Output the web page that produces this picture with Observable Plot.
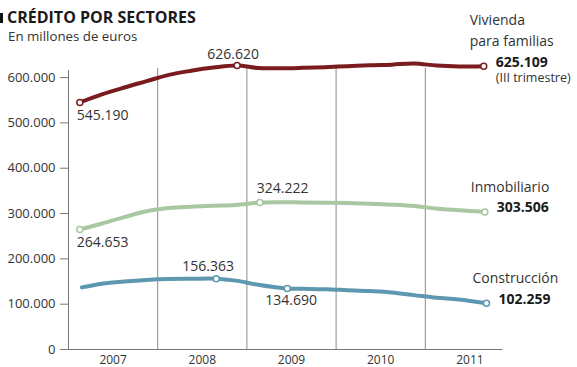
<!DOCTYPE html>
<html>
<head>
<meta charset="utf-8">
<script src="https://cdn.jsdelivr.net/npm/d3@7"></script>
<script src="https://cdn.jsdelivr.net/npm/@observablehq/plot@0.6"></script>
<style>
  html, body { margin: 0; padding: 0; background: #fff; }
  #wrap { position: relative; width: 577px; height: 367px; font-family: "Open Sans", sans-serif; color: #222; }
  #bar { position: absolute; left: 0; top: 13px; width: 3px; height: 10px; background: #111; }
  #title { position: absolute; left: 7px; top: 8.5px; font-size: 16px; line-height: 16px; font-weight: 700; color: #1a1a1a; white-space: nowrap; }
  #subtitle { position: absolute; left: 8px; top: 30px; font-size: 13.3px; line-height: 13px; color: #333; white-space: nowrap; }
  #chart { position: absolute; left: 0; top: 0; }
</style>
</head>
<body>
<div id="wrap">
  <div id="chart"></div>
  <div id="bar"></div>
  <div id="title">CRÉDITO POR SECTORES</div>
  <div id="subtitle">En millones de euros</div>
</div>
<script>
// ---- data ----
const years = [2007, 2008, 2009, 2010, 2011];
const yTicks = [0, 100000, 200000, 300000, 400000, 500000, 600000];

const seriesNames = ["Vivienda\npara familias", "Inmobiliario", "Construcción"];
const seriesColors = ["#7a1c1f", "#a8c8a2", "#5d97b0"];

const viviendaT = [2007.127, 2007.375, 2007.625, 2007.875, 2008.125, 2008.375, 2008.625, 2008.89, 2009.125, 2009.375, 2009.625, 2009.875, 2010.125, 2010.375, 2010.625, 2010.875, 2011.125, 2011.375, 2011.655];
const viviendaV = [545190, 563000, 578000, 592000, 606000, 615000, 622000, 626620, 621000, 620500, 621500, 623000, 625000, 627000, 628500, 631000, 626500, 624500, 625109];

const inmobiliarioT = [2007.127, 2007.375, 2007.625, 2007.875, 2008.125, 2008.375, 2008.625, 2008.875, 2009.145, 2009.375, 2009.625, 2009.875, 2010.125, 2010.375, 2010.625, 2010.875, 2011.125, 2011.375, 2011.667];
const inmobiliarioV = [264653, 278000, 292000, 305000, 312000, 315000, 317000, 319000, 324222, 325000, 324500, 324000, 323000, 321500, 319500, 316500, 311000, 307000, 303506];

const construccionT = [2007.15, 2007.375, 2007.625, 2007.875, 2008.125, 2008.375, 2008.656, 2008.875, 2009.125, 2009.452, 2009.625, 2009.875, 2010.125, 2010.375, 2010.625, 2010.875, 2011.125, 2011.375, 2011.686];
const construccionV = [137000, 145000, 150000, 153500, 155500, 156000, 156363, 152000, 143000, 134690, 134000, 133000, 131000, 129000, 126000, 120000, 114000, 110500, 102259];

// indices of the points that carry a value label
const labeledIdx = [[0, 7], [0, 8], [6, 9]];
const endNotes = ["(III trimestre)", "", ""];

// ---- build table ----
const Ts = [viviendaT, inmobiliarioT, construccionT];
const Vs = [viviendaV, inmobiliarioV, construccionV];
const rows = [];
Ts.forEach((T, s) => T.forEach((t, i) => rows.push({serie: s, t, v: Vs[s][i]})));

const fmt = v => d3.format(",")(v).replace(/,/g, ".");

const labels = [];
labeledIdx.forEach((idxs, s) => idxs.forEach(i => labels.push({serie: s, t: Ts[s][i], v: Vs[s][i]})));
const ends = Ts.map((T, s) => ({serie: s, t: T[T.length - 1], v: Vs[s][T.length - 1], name: seriesNames[s], note: endNotes[s]}));
const markers = labels.concat(ends);

// label placement (styling)
const place = [
  {anchor: "start", dx: -3, dy: 13},
  {anchor: "middle", dx: -4, dy: -11},
  {anchor: "start", dx: -3, dy: 13},
  {anchor: "start", dx: -3, dy: -14},
  {anchor: "middle", dx: -8, dy: -12},
  {anchor: "middle", dx: 4, dy: 12}
];

const gridColor = "#8a8a8a";
const axisColor = "#777";
const textColor = "#333";

const chart = Plot.plot({
  width: 577,
  height: 367,
  marginTop: 68,
  marginBottom: 18,
  marginLeft: 68,
  marginRight: 63,
  style: {fontFamily: "'Open Sans', sans-serif", fontSize: "13px", color: textColor, background: "transparent", overflow: "visible"},
  x: {domain: [2007, 2012]},
  y: {domain: [0, 620000]},
  marks: [
    Plot.ruleX(years.slice(1), {y1: 0, y2: 620000, stroke: gridColor, strokeWidth: 1}),
    Plot.ruleX([years[0]], {y1: 0, y2: 615000, stroke: axisColor, strokeWidth: 1}),
    Plot.ruleY([0], {x1: years[0], x2: 2011.87, stroke: axisColor, strokeWidth: 1}),
    Plot.axisY({ticks: yTicks, tickSize: 8, tickPadding: 5, tickFormat: fmt, stroke: axisColor, fill: textColor, fontSize: 13, label: null}),
    Plot.axisX({ticks: years.map(y => y + 0.5), tickSize: 0, tickPadding: 6, tickFormat: d => String(Math.floor(d)), fill: textColor, fontSize: 12, label: null}),
    ...seriesNames.map((n, s) => Plot.line(rows.filter(r => r.serie === s), {x: "t", y: "v", stroke: seriesColors[s], strokeWidth: 4, curve: "catmull-rom", strokeLinecap: "round"})),
    Plot.dot(markers, {x: "t", y: "v", r: 3, fill: "white", stroke: d => seriesColors[d.serie], strokeWidth: 1.5}),
    ...labels.map((d, i) => Plot.text([d], {x: "t", y: "v", text: d => fmt(d.v), textAnchor: place[i].anchor, dx: place[i].dx, dy: place[i].dy, fontSize: 14, fill: textColor})),
    Plot.text(ends, {x: "t", y: "v", text: "name", textAnchor: "start", lineAnchor: "bottom", lineHeight: 1.5, dx: -14, dy: -20, fontSize: 14, fill: textColor}),
    Plot.text(ends, {x: "t", y: "v", text: d => fmt(d.v), textAnchor: "start", dx: 12, dy: -4, fontSize: 14, fontWeight: "bold", fill: "#1a1a1a"}),
    Plot.text(ends, {x: "t", y: "v", text: "note", textAnchor: "start", dx: 12, dy: 12, fontSize: 12.5, fill: textColor})
  ]
});
document.getElementById("chart").appendChild(chart);
</script>
</body>
</html>
